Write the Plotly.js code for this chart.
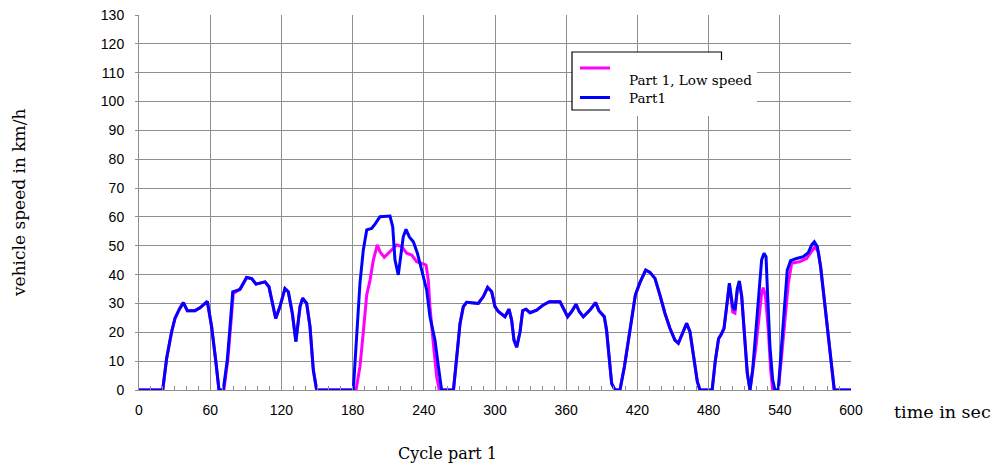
<!DOCTYPE html>
<html>
<head>
<meta charset="utf-8">
<script src="https://cdn.plot.ly/plotly-3.0.1.min.js"></script>
<style>html,body{margin:0;padding:0;background:#fff;}#chart{width:995px;height:466px;}</style>
</head>
<body>
<div id="chart"></div>
<script>
// Series names
const seriesLowName = "Part 1, Low speed";
const seriesPart1Name = "Part1";

// Part1 (blue) – time [s] and speed [km/h]
const timePart1 = [0,20,23.3,27.5,30.3,34,37.4,40.7,47.2,51.4,57.6,61.2,64.6,67.4,71,74.4,76.7,79,85.1,90.7,95,98.6,106.2,109.5,115.2,118.8,123,125.8,129.2,132.2,135.7,137.9,141.3,144.1,146.9,149.7,
180.6,183.4,186.2,189,191.9,196,198.9,203.1,211.5,213.8,215.7,218.5,220.8,222.7,225,227.8,231.2,234.6,238.2,242.4,245.2,249.4,252.3,255,
265,267.7,270.5,273.3,276.1,285.9,290.2,293.8,297.2,300,302.8,308.4,311.8,314,316,318.3,321.1,323.3,326.1,329.5,335.1,340.7,345.8,354.8,357.6,361.2,364.6,368.3,371,374.4,380,384.8,387.6,392.1,394,396,398.3,401.1,
405.3,409,412.4,415.7,418.3,422.2,427,430.6,434.8,439,443.2,447.4,451.6,454.5,458.2,461.5,464.3,467.1,470.5,472.7,
483,485.6,488.4,491,493,495.2,497.5,500.3,502.2,504.2,505.9,507.9,510.7,512.6,514.9,517.1,519.9,522.7,524.7,526.7,528.4,529.8,531.7,534,535.9,
538.7,541.6,544.4,546.3,549.1,554.2,559.8,564,566.9,569.1,571.6,574.4,577.2,580.9,583.7,585.9,600];
const speedPart1 = [0,0,11,20.2,24.8,28,30.3,27.5,27.5,28.5,30.7,21.9,10.4,0,0,10.4,22,34,34.9,39,38.6,36.7,37.5,35.8,24.8,28.9,35.2,34.1,26.6,16.8,28.9,31.8,30,22,6.9,0,
0,19.6,37,48.5,55.5,56,57.5,60.1,60.3,56.6,45.1,39.9,46.2,53.1,55.7,53.1,51.4,47.4,41.6,34.7,25.4,17.3,8.1,0,
0,11,23,28.9,30.4,30,32.4,35.6,34.1,28.9,27.2,25.4,28,24.3,17.3,14.8,20.2,27.5,28,26.8,27.7,29.5,30.6,30.6,28.3,25.4,27.2,29.7,27.2,25.4,27.7,30.3,27.5,25.4,20.8,12,2.3,0,
0,8,17.3,25.4,33,37.3,41.6,40.8,38.7,32.9,26.6,21.4,17.3,16.2,20.2,23.1,20.2,12.1,2.9,0,
0,10,17.8,19.6,21.4,28.9,37,28.9,27.7,35.2,37.8,32.4,17.3,5.8,0,6.9,20.8,37,45.1,47.4,46.2,32.4,15,3.5,0,
0,15,32.4,41.6,44.8,45.6,46.2,47.6,50.3,51.4,49.7,42.7,32.4,18.5,6.9,0,0];

// Part 1, Low speed (magenta) – time [s] and speed [km/h]
const timeLow = [0,20,23.3,27.5,30.3,34,37.4,40.7,47.2,51.4,57.6,61.2,64.6,67.4,71.5,74.8,77.2,79.5,85.1,90.7,95,98.6,106.2,109.5,115.2,118.8,123,125.8,129.2,132.2,135.7,137.9,141.3,144.1,146.9,149.7,
182.9,186.2,189,191.9,194.7,197.5,200.8,203.1,206.7,211.5,217.1,221.3,225.6,229.8,234,238.2,241.9,243.8,245.2,248,250.9,253,
265,267.7,270.5,273.3,276.1,285.9,290.2,293.8,297.2,300,302.8,308.4,311.8,314,316,318.3,321.1,323.3,326.1,329.5,335.1,340.7,345.8,354.8,357.6,361.2,364.6,368.3,371,374.4,380,384.8,387.6,392.1,394,396,398.3,401.1,
405.3,409,412.4,415.7,418.3,422.2,427,430.6,434.8,439,443.2,447.4,451.6,454.5,458.2,461.5,464.3,467.1,470.5,472.7,
483,485.6,488.4,491,493,495.2,497.5,500.3,502.2,504.2,505.9,507.9,510.7,512.6,514.9,517.1,519.9,522.7,524.7,526,528,530.3,532.3,534,
538.7,541.6,544.4,547.2,550,557,562.6,566.9,569.7,572.5,574.4,577.2,580.9,583.7,585.9,600];
const speedLow = [0,0,11,20.2,24.8,28,30.3,27.5,27.5,28.5,30.7,21.9,10.4,0,0,10.4,22,33.5,34.9,39,38.6,36.7,37.5,35.8,24.8,28.9,35.2,34.1,26.6,16.8,28.9,31.8,30,22,6.9,0,
0,8.1,20,33,38.1,45.1,50.3,47.9,46,47.9,50.3,49.7,47.4,46.8,44.5,43.9,43.3,38.1,28.9,16.2,4.6,0,
0,11,23,28.9,30.4,30,32.4,35.6,34.1,28.9,27.2,25.4,28,24.3,17.3,14.8,20.2,27.5,28,26.8,27.7,29.5,30.6,30.6,28.3,25.4,27.2,29.7,27.2,25.4,27.7,30.3,27.5,25.4,20.8,12,2.3,0,
0,8,17.3,25.4,33,37.3,41.6,40.8,38.7,32.9,26.6,21.4,17.3,16.2,20.2,23.1,20.2,12.1,2.9,0,
0,10,17.8,19.6,21.4,28.9,36.5,27,26.6,34.5,37.5,32.4,17.3,5.8,0,6.9,15,26,33.5,35.5,32.4,20.8,6.9,0,
0,12,25.4,37,43.9,44.5,45.6,47.9,49.7,47.9,42.7,32.4,18.5,6.9,0,0];

// Axis ticks
const xTicks = [0,60,120,180,240,300,360,420,480,540,600];
const yTicks = [0,10,20,30,40,50,60,70,80,90,100,110,120,130];

const W = 995, H = 466, L = 139, R = 144, T = 15, B = 76;
const pw = W - L - R, ph = H - T - B;
const px = x => (x - L) / pw;          // pixel -> paper x
const py = y => (H - B - y) / ph;      // pixel -> paper y

const traces = [
  {x: timeLow, y: speedLow, name: seriesLowName, type: 'scatter', mode: 'lines',
   line: {color: '#ff00ff', width: 3}, showlegend: false},
  {x: timePart1, y: speedPart1, name: seriesPart1Name, type: 'scatter', mode: 'lines',
   line: {color: '#0000ff', width: 3}, showlegend: false}
];

const gridCol = '#8f8f8f';
const serif = 'DejaVu Serif, Liberation Serif, serif';
const sans = 'Liberation Sans, Arial, sans-serif';

const layout = {
  width: W, height: H,
  margin: {l: L, r: R, t: T, b: B, pad: 0},
  paper_bgcolor: '#ffffff', plot_bgcolor: '#ffffff',
  showlegend: false,
  xaxis: {
    range: [0, 600], tickmode: 'array', tickvals: xTicks, ticktext: xTicks.map(String),
    showgrid: true, gridcolor: gridCol, gridwidth: 1,
    showline: true, linecolor: gridCol, linewidth: 1, mirror: false,
    zeroline: false, ticks: 'inside', ticklen: 4, tickcolor: gridCol,
    minor: {dtick: 10, ticks: 'inside', ticklen: 4, tickcolor: gridCol, showgrid: false},
    tickfont: {family: sans, size: 14, color: '#000'},
    ticklabelstandoff: 7, fixedrange: true
  },
  yaxis: {
    range: [0, 130], tickmode: 'array', tickvals: yTicks, ticktext: yTicks.map(String),
    showgrid: true, gridcolor: gridCol, gridwidth: 1,
    showline: true, linecolor: gridCol, linewidth: 1,
    zeroline: false, ticks: 'outside', ticklen: 3, tickcolor: gridCol,
    tickfont: {family: sans, size: 14, color: '#000'},
    ticklabelstandoff: 8, fixedrange: true
  },
  shapes: [
    // legend box (white fill, black border)
    {type: 'rect', xref: 'paper', yref: 'paper', x0: px(572), x1: px(721.5), y0: py(110), y1: py(52),
     line: {color: '#000', width: 1.2}, fillcolor: '#fff', layer: 'above'},
    // white patch overlapping the legend box
    {type: 'rect', xref: 'paper', yref: 'paper', x0: px(610), x1: px(757), y0: py(116), y1: py(60),
     line: {width: 0}, fillcolor: '#fff', layer: 'above'},
    // legend line samples
    {type: 'line', xref: 'paper', yref: 'paper', x0: px(580), x1: px(610), y0: py(68), y1: py(68),
     line: {color: '#ff00ff', width: 3}, layer: 'above'},
    {type: 'line', xref: 'paper', yref: 'paper', x0: px(580), x1: px(610), y0: py(97.5), y1: py(97.5),
     line: {color: '#0000ff', width: 3}, layer: 'above'}
  ],
  annotations: [
    {text: seriesLowName, xref: 'paper', yref: 'paper', x: px(627), y: py(80), xanchor: 'left', yanchor: 'middle',
     showarrow: false, font: {family: serif, size: 13.5, color: '#000'}},
    {text: seriesPart1Name, xref: 'paper', yref: 'paper', x: px(627), y: py(98), xanchor: 'left', yanchor: 'middle',
     showarrow: false, font: {family: serif, size: 13.5, color: '#000'}},
    {text: 'time in sec', xref: 'paper', yref: 'paper', x: px(892), y: py(412), xanchor: 'left', yanchor: 'middle',
     showarrow: false, font: {family: serif, size: 17.5, color: '#000'}},
    {text: 'Cycle part 1', xref: 'paper', yref: 'paper', x: px(447), y: py(453), xanchor: 'center', yanchor: 'middle',
     showarrow: false, font: {family: serif, size: 16, color: '#000'}},
    {text: 'vehicle speed in km/h', xref: 'paper', yref: 'paper', x: px(19), y: py(203), xanchor: 'center', yanchor: 'middle',
     textangle: -90, showarrow: false, font: {family: serif, size: 17, color: '#000'}}
  ]
};

Plotly.newPlot('chart', traces, layout, {displayModeBar: false, staticPlot: true});
</script>
</body>
</html>
